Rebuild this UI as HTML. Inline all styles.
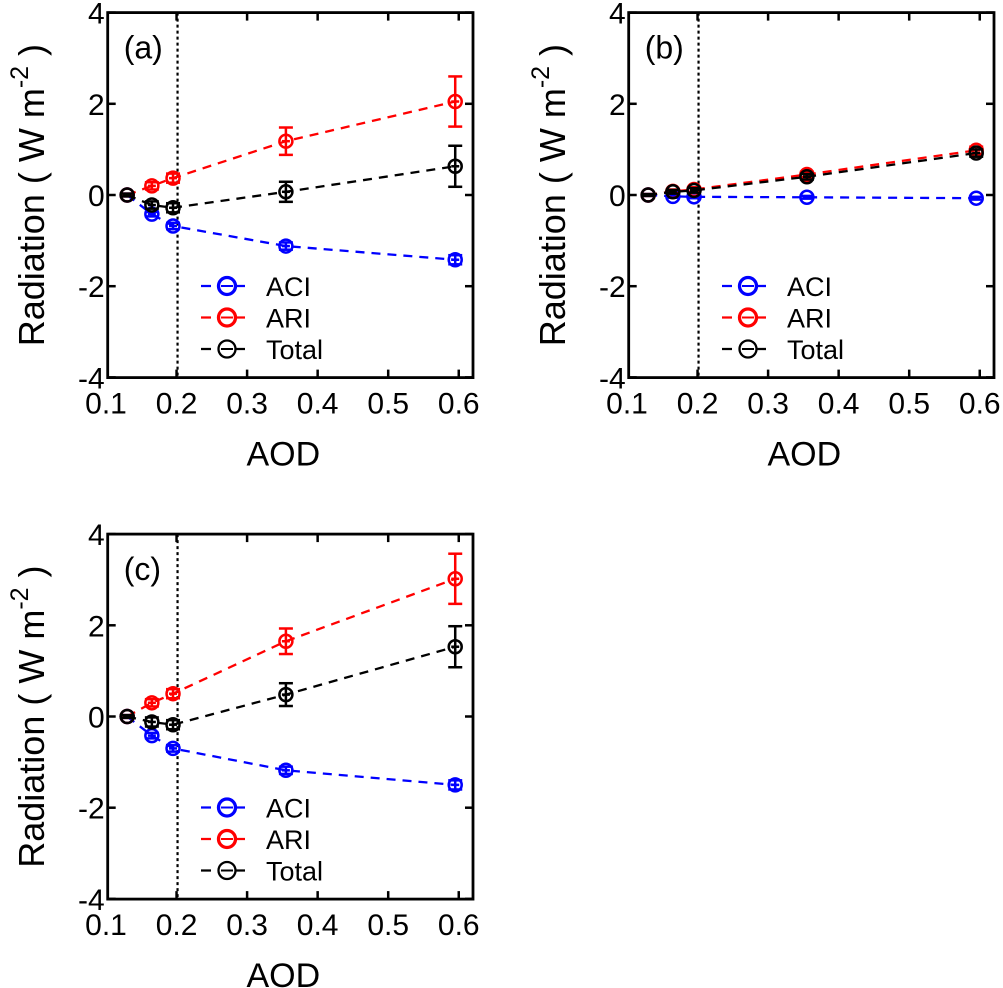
<!DOCTYPE html>
<html><head><meta charset="utf-8"><style>
body{margin:0;background:#fff;}
svg{display:block;font-family:"Liberation Sans",Arial,sans-serif;}
</style></head><body>
<svg id="fig" width="1003" height="988" viewBox="0 0 1003 988" xmlns="http://www.w3.org/2000/svg"></svg>
<script>
const aod = [0.13, 0.165, 0.195, 0.355, 0.595];
const xTicks = [0.1, 0.2, 0.3, 0.4, 0.5, 0.6];
const yTicks = [4, 2, 0, -2, -4];
const seriesNames = ["ACI", "ARI", "Total"];
const seriesColors = ["#0000ff", "#ff0000", "#000000"];
const aACI = [0, -0.42, -0.68, -1.12, -1.42];
const aACIerr = [0.03, 0.05, 0.07, 0.08, 0.1];
const aARI = [0, 0.2, 0.37, 1.18, 2.05];
const aARIerr = [0.03, 0.08, 0.1, 0.3, 0.55];
const aTot = [0, -0.22, -0.28, 0.07, 0.63];
const aToterr = [0.03, 0.08, 0.1, 0.22, 0.45];
const bACI = [0, -0.03, -0.04, -0.05, -0.07];
const bACIerr = [0.02, 0.03, 0.03, 0.03, 0.03];
const bARI = [0, 0.08, 0.12, 0.45, 0.98];
const bARIerr = [0.02, 0.04, 0.05, 0.06, 0.08];
const bTot = [0, 0.07, 0.1, 0.4, 0.92];
const bToterr = [0.02, 0.04, 0.05, 0.06, 0.08];
const cACI = [0, -0.42, -0.7, -1.18, -1.5];
const cACIerr = [0.03, 0.06, 0.07, 0.08, 0.1];
const cARI = [0, 0.3, 0.5, 1.65, 3.02];
const cARIerr = [0.03, 0.08, 0.1, 0.28, 0.55];
const cTot = [0, -0.12, -0.18, 0.48, 1.53];
const cToterr = [0.03, 0.1, 0.1, 0.25, 0.45];

const NS = "http://www.w3.org/2000/svg";
const svg = document.getElementById("fig");
function mk(tag, attrs, parent){
  const e = document.createElementNS(NS, tag);
  for (const k in attrs) e.setAttribute(k, attrs[k]);
  (parent||svg).appendChild(e);
  return e;
}
function panel(ox, oy, tag, series, errs, pname){
  const g = mk("g", {});
  
  
  const L = 107.7 + ox, R = 473 + ox, T = 12.6 + oy, B = 377.6 + oy;
  const sx = v => 106 + ox + (v - 0.1) * 705.5;
  const sy = v => 195 + oy - v * 45.6;
  const vl = mk("line", {x1:sx(0.2)+1, x2:sx(0.2)+1, y1:T, y2:B, stroke:"#000", "stroke-width":2.2, "stroke-dasharray":"3,3"}, g);
  
  
  series.forEach((vals, si) => {
    const col = seriesColors[si];
    const sg = mk("g", {}, g);
    
    
    const pts = vals.map((v, i) => sx(aod[i]) + "," + sy(v)).join(" ");
    mk("polyline", {points:pts, fill:"none", stroke:col, "stroke-width":2.3, "stroke-dasharray":"9,7"}, sg);
    vals.forEach((v, i) => {
      const x = sx(aod[i]), y = sy(v), e = errs[si][i] * 45.6;
      const eb = mk("g", {stroke:col, "stroke-width":2.5, fill:"none"}, sg);
      
      
      mk("line", {x1:x, x2:x, y1:y-e, y2:y+e}, eb);
      mk("line", {x1:x-7, x2:x+7, y1:y-e, y2:y-e}, eb);
      mk("line", {x1:x-7, x2:x+7, y1:y+e, y2:y+e}, eb);
      mk("circle", {cx:x, cy:y, r:6.5}, eb);
      mk("line", {x1:x-4, x2:x+4, y1:y, y2:y}, eb);
    });
  });
  const fr = mk("rect", {x:L, y:T, width:R-L, height:B-T, fill:"none", stroke:"#000", "stroke-width":2.8}, g);
  
  
  xTicks.forEach(t => {
    const x = sx(t);
    if (x > L + 2) {
      mk("line", {x1:x, x2:x, y1:B, y2:B-8, stroke:"#000", "stroke-width":2.5}, g);
      mk("line", {x1:x, x2:x, y1:T, y2:T+8, stroke:"#000", "stroke-width":2.5}, g);
    }
    const tx = mk("text", {x:x, y:B+36, "font-size":30, "text-anchor":"middle"}, g);
    tx.textContent = t.toFixed(1);
    
    
  });
  yTicks.forEach(t => {
    const y = sy(t);
    mk("line", {x1:L, x2:L+8, y1:y, y2:y, stroke:"#000", "stroke-width":2.5}, g);
    mk("line", {x1:R, x2:R-8, y1:y, y2:y, stroke:"#000", "stroke-width":2.5}, g);
    const ty = mk("text", {x:L-3, y:y+11, "font-size":30, "text-anchor":"end"}, g);
    ty.textContent = String(t);
    
    
  });
  const pl = mk("text", {x:L+16, y:T+46, "font-size":32}, g);
  pl.textContent = tag;
  
  
  const xl = mk("text", {x:(L+R)/2 - 7, y:B+88, "font-size":34, "text-anchor":"middle"}, g);
  xl.textContent = "AOD";
  
  
  const yl = mk("text", {transform:"translate(" + (ox+44) + "," + ((T+B)/2) + ") rotate(-90)", "font-size":36, "text-anchor":"middle"}, g);
  
  
  yl.innerHTML = 'Radiation ( W m<tspan dy="-16" font-size="25">-2</tspan><tspan dy="16"> )</tspan>';
  seriesNames.forEach((n, i) => {
    const ly = 286 + oy + i * 31.5;
    const lg = mk("g", {}, g);
    
    
    const w = i === 2 ? 2.3 : 3.3;
    mk("line", {x1:ox+201, x2:ox+250, y1:ly, y2:ly, stroke:seriesColors[i], "stroke-width":2.3, "stroke-dasharray":"10,7"}, lg);
    mk("circle", {cx:ox+227, cy:ly, r:8.5, fill:"#fff", stroke:seriesColors[i], "stroke-width":w}, lg);
    mk("line", {x1:ox+221, x2:ox+233, y1:ly, y2:ly, stroke:seriesColors[i], "stroke-width":2}, lg);
    const lt = mk("text", {x:ox+266, y:ly+10, "font-size":27}, lg);
    lt.textContent = n;
  });
}
panel(0, 0, "(a)", [aACI, aARI, aTot], [aACIerr, aARIerr, aToterr], "a");
panel(521, 0, "(b)", [bACI, bARI, bTot], [bACIerr, bARIerr, bToterr], "b");
panel(0, 521.5, "(c)", [cACI, cARI, cTot], [cACIerr, cARIerr, cToterr], "c");
</script>
</body></html>
